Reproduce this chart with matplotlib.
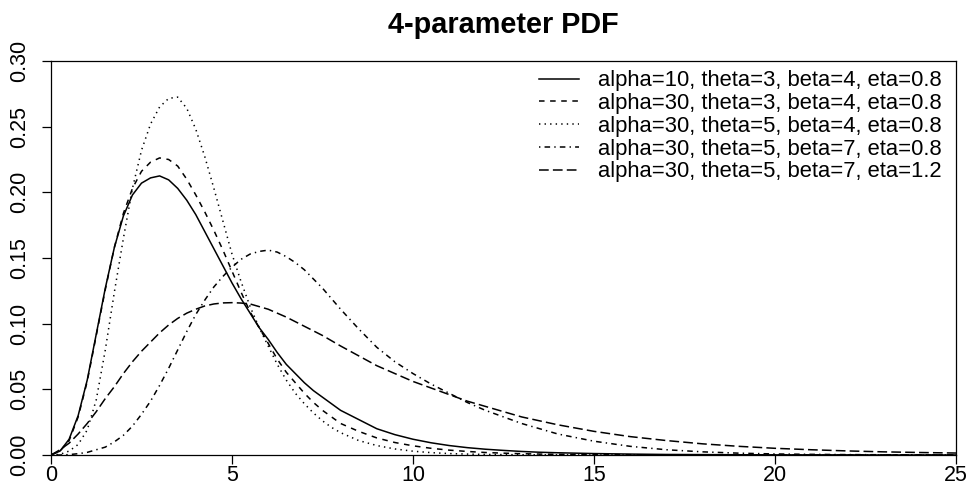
import matplotlib.pyplot as plt

plt.rcParams['font.family'] = ['Liberation Sans', 'DejaVu Sans']
plt.rcParams['lines.scale_dashes'] = False

# values
x = [0, 0.25, 0.5, 0.75, 1, 1.25, 1.5, 1.75, 2, 2.25, 2.5, 2.75, 3, 3.25, 3.5, 3.75,
     4, 4.25, 4.5, 4.75, 5, 5.25, 5.5, 5.75, 6, 6.25, 6.5, 6.75, 7, 7.25, 7.5, 7.75,
     8, 8.5, 9, 9.5, 10, 10.5, 11, 11.5, 12, 12.5, 13, 13.5, 14,
     15, 16, 17, 18, 19, 20, 21, 22, 23, 24, 25]

pdf_a10_t3_b4 = [0, 0.003, 0.012, 0.030, 0.057, 0.092, 0.127, 0.158, 0.182, 0.198, 0.207,
                 0.211, 0.2125, 0.2095, 0.203, 0.194, 0.183, 0.170, 0.157, 0.144, 0.131,
                 0.119, 0.108, 0.097, 0.088, 0.078, 0.069, 0.062, 0.055, 0.049, 0.044,
                 0.039, 0.034, 0.027, 0.020, 0.0155, 0.012, 0.0093, 0.0072, 0.0056,
                 0.0044, 0.0035, 0.0027, 0.0021, 0.0017,
                 0.0011, 0.0007, 0.0004, 0.0003, 0.0002, 0.0001, 0.0001, 0.0001, 0, 0, 0]
pdf_a30_t3_b4 = [0, 0.003, 0.011, 0.029, 0.056, 0.091, 0.126, 0.158, 0.184, 0.203, 0.216,
                 0.223, 0.2262, 0.225, 0.220, 0.210, 0.198, 0.185, 0.171, 0.156, 0.140,
                 0.124, 0.109, 0.097, 0.085, 0.073, 0.063, 0.055, 0.047, 0.040, 0.034,
                 0.029, 0.024, 0.018, 0.013, 0.0095, 0.007, 0.0051, 0.0037, 0.0027,
                 0.0019, 0.0014, 0.001, 0.0007, 0.0005,
                 0.0003, 0.0002, 0.0001, 0, 0, 0, 0, 0, 0, 0, 0]
pdf_a30_t5_b4 = [0, 0.0005, 0.003, 0.008, 0.019, 0.042, 0.080, 0.124, 0.165, 0.203, 0.232,
                 0.252, 0.265, 0.2715, 0.2725, 0.264, 0.248, 0.227, 0.203, 0.178, 0.153,
                 0.132, 0.113, 0.097, 0.083, 0.069, 0.057, 0.047, 0.039, 0.032, 0.026,
                 0.021, 0.017, 0.011, 0.0072, 0.0046, 0.0029, 0.0018, 0.0011, 0.0007,
                 0.0004, 0.0003, 0.0002, 0.0001, 0.0001,
                 0, 0, 0, 0, 0, 0, 0, 0, 0, 0, 0]
pdf_a30_t5_b7 = [0, 0, 0.0003, 0.001, 0.002, 0.004, 0.006, 0.010, 0.015, 0.022, 0.031,
                 0.041, 0.053, 0.066, 0.080, 0.094, 0.107, 0.118, 0.128, 0.136, 0.143,
                 0.149, 0.153, 0.155, 0.156, 0.1545, 0.151, 0.1465, 0.141, 0.134, 0.127,
                 0.119, 0.111, 0.096, 0.082, 0.071, 0.062, 0.054, 0.047, 0.040,
                 0.034, 0.029, 0.024, 0.020, 0.016,
                 0.0105, 0.0066, 0.004, 0.0024, 0.0014, 0.0008, 0.0005, 0.0003, 0.0002,
                 0.0001, 0.0001]
pdf_a30_t5_b7_e12 = [0, 0.004, 0.009, 0.016, 0.024, 0.033, 0.043, 0.052, 0.062, 0.071,
                     0.079, 0.086, 0.093, 0.099, 0.104, 0.108, 0.111, 0.1135, 0.115,
                     0.1158, 0.116, 0.1157, 0.115, 0.113, 0.111, 0.108, 0.105, 0.1015,
                     0.098, 0.0945, 0.091, 0.087, 0.083, 0.0755, 0.068, 0.062, 0.056,
                     0.051, 0.046, 0.041, 0.037, 0.033, 0.029, 0.026, 0.023,
                     0.018, 0.014, 0.011, 0.0085, 0.0066, 0.0051, 0.004, 0.0031, 0.0024,
                     0.0019, 0.0015]

labels = ['alpha=10, theta=3, beta=4, eta=0.8',
          'alpha=30, theta=3, beta=4, eta=0.8',
          'alpha=30, theta=5, beta=4, eta=0.8',
          'alpha=30, theta=5, beta=7, eta=0.8',
          'alpha=30, theta=5, beta=7, eta=1.2']
series = [pdf_a10_t3_b4, pdf_a30_t3_b4, pdf_a30_t5_b4, pdf_a30_t5_b7, pdf_a30_t5_b7_e12]
# R lty: solid, dashed, dotted, dotdash, longdash
styles = ['-', (0, (4, 4)), (0, (1, 3)), (0, (1, 3, 4, 3)), (0, (7, 3))]

fig = plt.figure(figsize=(9.69, 4.88), dpi=100)
ax = fig.add_axes([51 / 969, 33 / 488, 905 / 969, 394 / 488])

for ys, ls, lab in zip(series, styles, labels):
    ax.plot(x, ys, color='black', linestyle=ls, linewidth=1.1, label=lab)

ax.set_xlim(0, 25)
ax.set_ylim(0, 0.30)
ax.set_xticks([0, 5, 10, 15, 20, 25])
ax.set_yticks([0, 0.05, 0.10, 0.15, 0.20, 0.25, 0.30])
ax.set_yticklabels(['0.00', '0.05', '0.10', '0.15', '0.20', '0.25', '0.30'])
ax.tick_params(direction='out', length=6.5, width=0.9, labelsize=15.5)
ax.tick_params(axis='x', pad=0.5)
ax.tick_params(axis='y', pad=8.5)
for t in ax.get_yticklabels():
    t.set_rotation(90)
    t.set_va('center')
for s in ax.spines.values():
    s.set_linewidth(0.9)

ax.set_title('4-parameter PDF', fontsize=20.8, fontweight='bold', pad=20)

ax.legend(loc='upper right', bbox_to_anchor=(0.992, 0.993), frameon=False,
          fontsize=15.8, handlelength=1.8, handletextpad=0.9, labelspacing=0.08,
          borderaxespad=0, borderpad=0.3)

fig.savefig('out.png', dpi=100)
